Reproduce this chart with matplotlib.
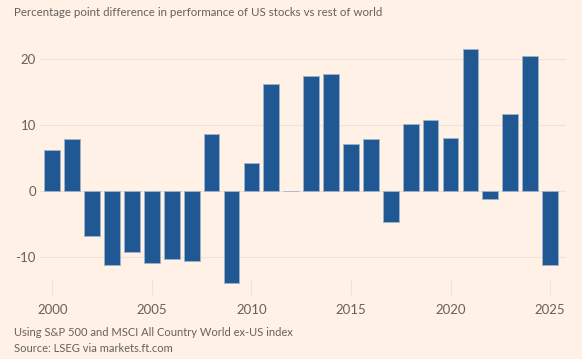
import numpy as np
import matplotlib
matplotlib.use("Agg")
import matplotlib.pyplot as plt

plt.rcParams["font.family"] = ["Lato", "DejaVu Sans"]
plt.rcParams["axes.unicode_minus"] = False

# data
years = np.arange(2000, 2026)
diff = [6.2, 7.9, -6.8, -11.2, -9.2, -10.9, -10.25, -10.6, 8.6, -13.9,
        4.3, 16.2, 0.1, 17.4, 17.7, 7.2, 7.9, -4.6, 10.2, 10.8,
        8.0, 21.5, -1.1, 11.7, 20.5, -11.1]
yticks = [-10, 0, 10, 20]
xticks = [2000, 2005, 2010, 2015, 2020, 2025]

BG = "#FFF1E5"
BAR = "#1F5893"
TXT = "#66605C"
GRID = "#F0E2D6"

fig = plt.figure(figsize=(5.82, 3.59), dpi=100, facecolor=BG)
ax = fig.add_axes([40 / 582, 1 - 287 / 359, 526 / 582, 241 / 359])
ax.set_facecolor(BG)

ax.bar(years, diff, width=0.79, color=BAR, edgecolor="#9DB5CC", linewidth=0.6, zorder=3)

ax.set_xlim(1999.38, 2025.8)
ax.set_ylim(-14.5, 22)
ax.set_yticks(yticks)
ax.set_xticks(xticks)
ax.grid(axis="y", color=GRID, linewidth=0.8, zorder=0)
for s in ax.spines.values():
    s.set_visible(False)
ax.tick_params(axis="y", length=0, pad=3, labelsize=9.5, labelcolor=TXT)
ax.tick_params(axis="x", direction="inout", length=12, width=0.8, color=GRID,
               pad=6, labelsize=9.5, labelcolor=TXT)

fig.text(14 / 582, 1 - 13 / 359, "Percentage point difference in performance of US stocks vs rest of world",
         fontsize=8.3, color=TXT, va="center", ha="left")
fig.text(14 / 582, 1 - 333 / 359, "Using S&P 500 and MSCI All Country World ex-US index",
         fontsize=8.0, color=TXT, va="center", ha="left")
fig.text(14 / 582, 1 - 348 / 359, "Source: LSEG via markets.ft.com",
         fontsize=8.0, color=TXT, va="center", ha="left")

fig.savefig("out.png", dpi=100, facecolor=BG)
